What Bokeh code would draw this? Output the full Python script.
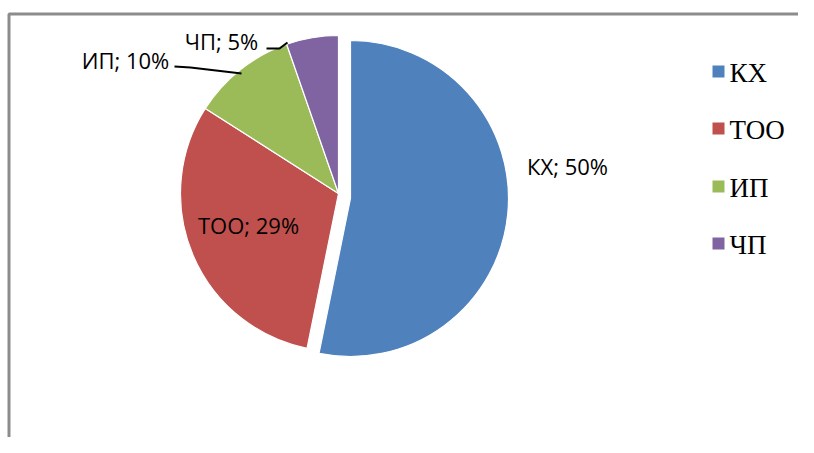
import math
from bokeh.plotting import figure
from bokeh.models import Range1d, ColumnDataSource
from bokeh.core.properties import value
from bokeh.embed import file_html
from bokeh.resources import INLINE

# ---- data ----
categories = ["КХ", "ТОО", "ИП", "ЧП"]
values = [50, 29, 10, 5]
colors = ["#4F81BD", "#C0504D", "#9BBB59", "#8064A2"]

# ---- layout (image pixel coords, y downward) ----
IMG_H = 453
def Y(y):
    return IMG_H - y

W, H = 798, 437
p = figure(width=W, height=H, x_range=Range1d(0, W), y_range=Range1d(IMG_H - H, IMG_H),
           output_backend="svg", toolbar_location=None, min_border=0)
p.axis.visible = False
p.grid.visible = False
p.outline_line_color = None
p.background_fill_color = "white"
p.border_fill_color = "white"

# chart frame (cut off at right/bottom)
p.line(x=[8.5, 8.5, 820], y=[Y(460), Y(13.5), Y(13.5)], line_color="#8c8c8c", line_width=3)

# pie geometry
center = (338, 193)
radius = 158
explode = [(12, 5), (0, 0), (0, 0), (0, 0)]

total = sum(values)
start = 90.0
starts, ends = [], []
for v in values:
    sweep = v / total * 360.0
    end = start - sweep
    starts.append(math.radians(end))
    ends.append(math.radians(start))
    start = end

src = ColumnDataSource(dict(
    x=[center[0] + e[0] for e in explode],
    y=[Y(center[1] + e[1]) for e in explode],
    sa=starts, ea=ends, color=colors,
))
p.wedge(x="x", y="y", radius=radius, start_angle="sa", end_angle="ea",
        fill_color="color", line_color="white", line_width=1.2, source=src)

# leader lines
p.line(x=[174, 190, 241], y=[Y(66), Y(67), Y(73)], line_color="black", line_width=2)
p.line(x=[266, 279, 287], y=[Y(48), Y(48), Y(42)], line_color="black", line_width=2)

# data labels
label_pos = [(567, 165), (248, 224), (125, 59), (221, 40)]
labels = [f"{c}; {v}%" for c, v in zip(categories, values)]
p.text(x=[lp[0] for lp in label_pos], y=[Y(lp[1]) for lp in label_pos], text=labels,
       text_font=value("Open Sans"), text_font_size="22px", text_color="black",
       text_align="center", text_baseline="middle")

# legend
leg_y = [71, 128, 186, 243]
p.rect(x=[718] * 4, y=[Y(v) for v in leg_y], width=12, height=12, fill_color=colors, line_color=None)
p.text(x=[729] * 4, y=[Y(v + 1) for v in leg_y], text=categories,
       text_font=value("Liberation Serif"), text_font_size="27px", text_color="black",
       text_align="left", text_baseline="middle")

open("out.html", "w").write(file_html(p, INLINE))
